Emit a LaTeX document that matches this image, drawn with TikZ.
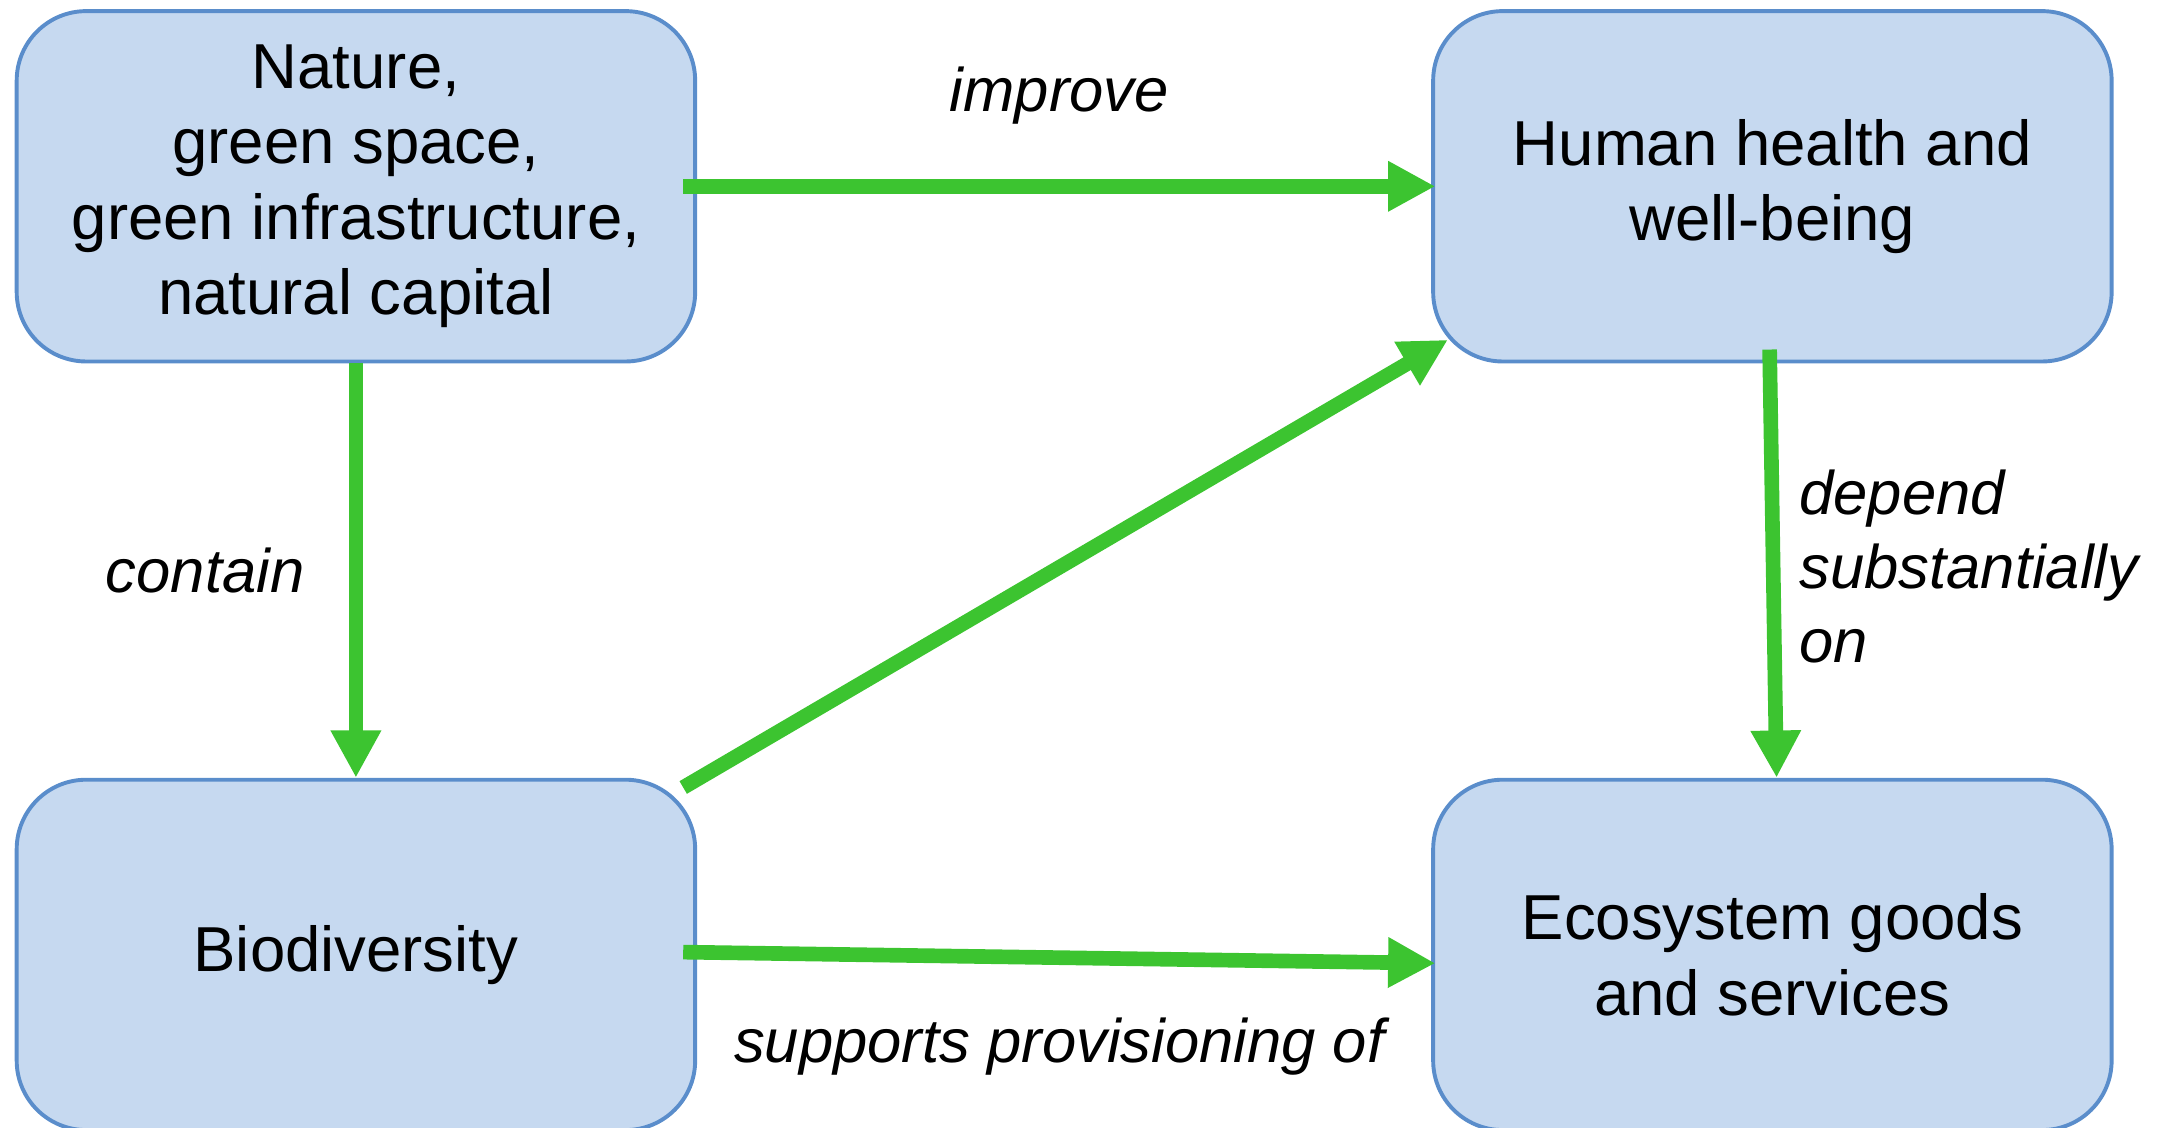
\documentclass[tikz,border=0pt]{standalone}
\usepackage{fontspec}
\setmainfont{Liberation Sans}
\usepackage{tikz}
\usetikzlibrary{arrows.meta,positioning,calc}
\definecolor{boxfill}{RGB}{198,217,240}
\definecolor{boxline}{RGB}{90,141,203}
\definecolor{flowgreen}{RGB}{60,196,48}

\begin{document}
\begin{tikzpicture}[node distance=2.98cm and 5.28cm, >=Stealth,
  box/.style={rectangle,rounded corners=5mm,draw=boxline,line width=0.8pt,fill=boxfill,
    minimum width=4.88cm,minimum height=2.52cm,align=center,
    font=\fontsize{13}{15.4}\selectfont},
  flow/.style={draw=flowgreen,line width=3pt,-{Triangle[length=3.4mm,width=3.4mm]}},
  lbl/.style={font=\fontsize{12.6}{15.2}\selectfont\itshape}]
\useasboundingbox (0,0) rectangle (15.68,-8.11);
\node (nat) [box] at (2.56,-1.34) {Nature,\\green space,\\green infrastructure,\\natural capital};
\node (hh) [box,right=of nat] {Human health and\\well-being};
\node (bio) [box,below=of nat] {Biodiversity};
\node (eco) [box,below=of hh] {Ecosystem goods\\and services};
% connectors
\draw[flow] ([xshift=-1mm]nat.east) -- ([xshift=0.3mm]hh.west)
  node (limp) [lbl,midway,yshift=6.5mm] {improve};
\draw[flow] (nat.south) -- (bio.north)
  node (lcon) [lbl,midway,left=2mm] {contain};
\draw[flow] ([xshift=-1mm,yshift=-0.7mm]bio.north east) -- ([xshift=1.2mm,yshift=1.7mm]hh.south west);
\draw[flow] ([xshift=-0.2mm,yshift=1mm]hh.south) -- ([xshift=0.3mm]eco.north)
  node (ldep) [lbl,midway,right=0.2mm,yshift=-0.2mm,align=left] {depend\\substantially\\on};
\draw[flow] ([xshift=-1mm,yshift=0.2mm]bio.east) -- ([xshift=0.3mm,yshift=-0.6mm]eco.west)
  node (lsup) [lbl,midway,yshift=-6.4mm] {supports provisioning of};
\end{tikzpicture}
\end{document}
